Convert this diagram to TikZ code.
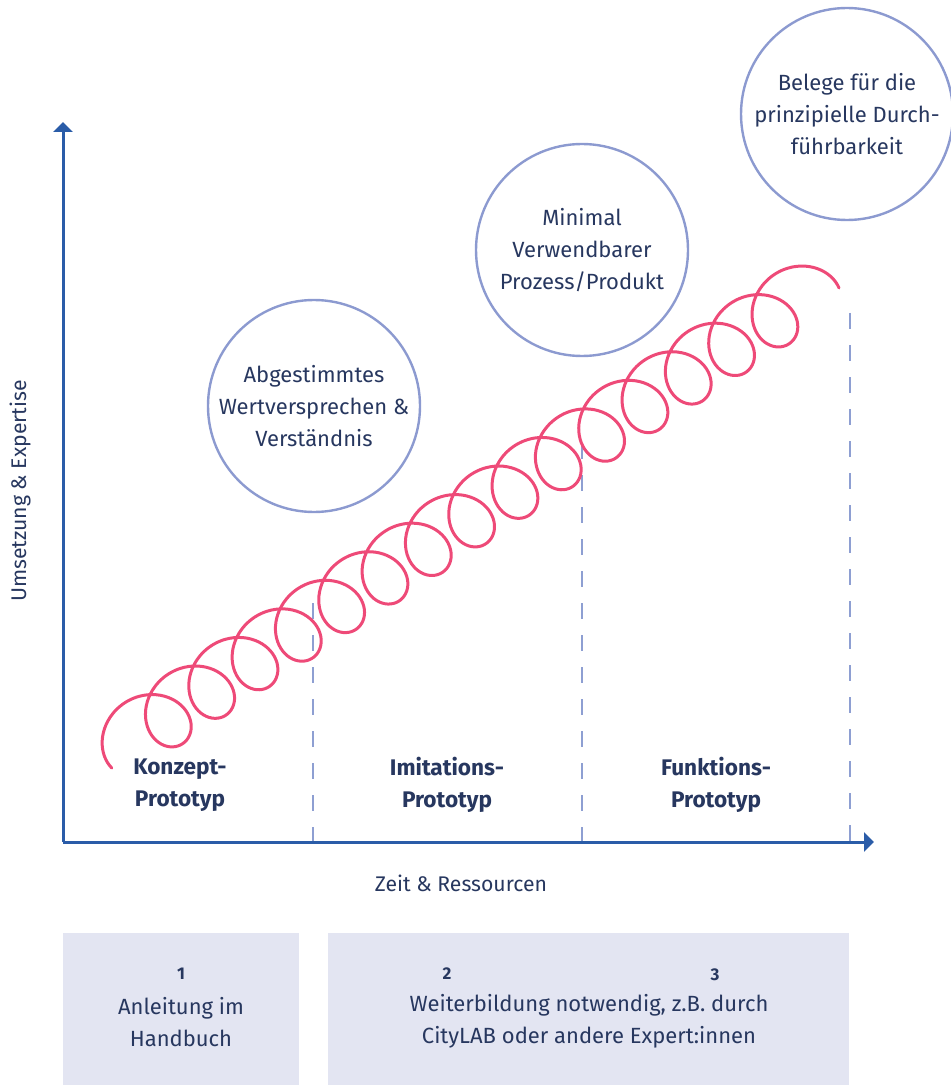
\documentclass[tikz,border=0pt]{standalone}
\usepackage{fontspec}
\setmainfont{Fira Sans}
\usetikzlibrary{arrows.meta}

\definecolor{axisblue}{HTML}{2A5CA8}
\definecolor{dashblue}{HTML}{8E9FD2}
\definecolor{ringblue}{HTML}{8C9AD0}
\definecolor{spiralpink}{HTML}{EE4A78}
\definecolor{navy}{HTML}{27375F}
\definecolor{boxlilac}{HTML}{E3E5F2}

\begin{document}
\begin{tikzpicture}[
            x=0.5pt,
            y=0.5pt,
            >={Triangle[length=5pt,width=9.5pt]},
            font=\fontsize{11}{16}\selectfont,
            axis/.style={->, axisblue, line width=1.5pt},
            phase/.style={dashblue, line width=1.4pt, dash pattern=on 8pt off 8pt},
            bubble/.style={circle, draw=ringblue, line width=1.2pt, minimum size=106pt,
                           inner sep=0pt, align=center, text=navy},
            txt/.style={text=navy, align=center, inner sep=0pt},
            axtxt/.style={txt, font=\fontsize{10.6}{16}\selectfont},
            stage/.style={txt, font=\fontsize{11.3}{16}\selectfont\bfseries},
            num/.style={txt, font=\fontsize{8.5}{10}\selectfont\bfseries},
            spiral/.style={spiralpink, line width=1.5pt, line cap=round}
        ]

            % --- Definitions ---
            \def\spinr{8.26}  % rolling radius of the spiral
            \def\spind{33}    % loop radius of the spiral
            \def\baseY{-842}  % height of the time axis

            \useasboundingbox (0,0) rectangle (951,-1085);

            % --- Axis Coordinates ---
            \coordinate (O) at (63,\baseY);
            \coordinate (Ytip) at (63,-122);
            \coordinate (Xtip) at (874,\baseY);

            % --- Phase Borders ---
            \coordinate (P1top) at (313,-603);
            \coordinate (P1bot) at (313,\baseY);
            \coordinate (P2top) at (582,-443);
            \coordinate (P2bot) at (582,\baseY);
            \coordinate (P3top) at (850,-313);
            \coordinate (P3bot) at (850,\baseY);

            \draw[phase] (P1top) -- (P1bot);
            \draw[phase] (P2top) -- (P2bot);
            \draw[phase] (P3top) -- (P3bot);

            % --- 1. Spiral (prolate cycloid along the diagonal) ---
            \begin{scope}[shift={(121,-744.8)}, rotate=33.4]
                \draw[spiral] plot[domain=1.12:99.40, samples=900, smooth, variable=\t]
                    ({\spinr*\t - \spind*sin(\t r)}, {-\spind*cos(\t r)});
            \end{scope}

            % --- 2. Axes ---
            \draw[axis] (O) -- (Ytip);
            \draw[axis] (O) -- (Xtip);
            \node[axtxt, rotate=90] (ylab) at (20,-491) {Umsetzung \& Expertise};
            \node[axtxt] (xlab) at (461,-883) {Zeit \& Ressourcen};

            % --- 3. Stages ---
            \node[stage] (konzept) at (180,-785) {Konzept-\\Prototyp};
            \node[stage] (imitation) at (447,-785) {Imitations-\\Prototyp};
            \node[stage] (funktion) at (716,-785) {Funktions-\\Prototyp};

            % --- 4. Milestones ---
            \node[bubble] (wert) at (314,-406) {Abgestimmtes\\Wertversprechen \&\\Verständnis};
            \node[bubble] (mvp) at (582,-250) {Minimal\\Verwendbarer\\Prozess/Produkt};
            \node[bubble] (beleg) at (847,-114) {Belege für die\\prinzipielle Durch-\\führbarkeit};

            % --- 5. Support Boxes ---
            \fill[boxlilac] (63,-933) rectangle (299,-1085);
            \fill[boxlilac] (328,-933) rectangle (849,-1085);

            \node[num] (n1) at (181,-974) {1};
            \node[txt] (hand) at (181,-1022) {Anleitung im\\Handbuch};
            \node[num] (n2) at (447,-974) {2};
            \node[num] (n3) at (715,-975) {3};
            \node[txt] (weiter) at (589,-1021) {Weiterbildung notwendig, z.B. durch\\CityLAB oder andere Expert:innen};

        \end{tikzpicture}
\end{document}
